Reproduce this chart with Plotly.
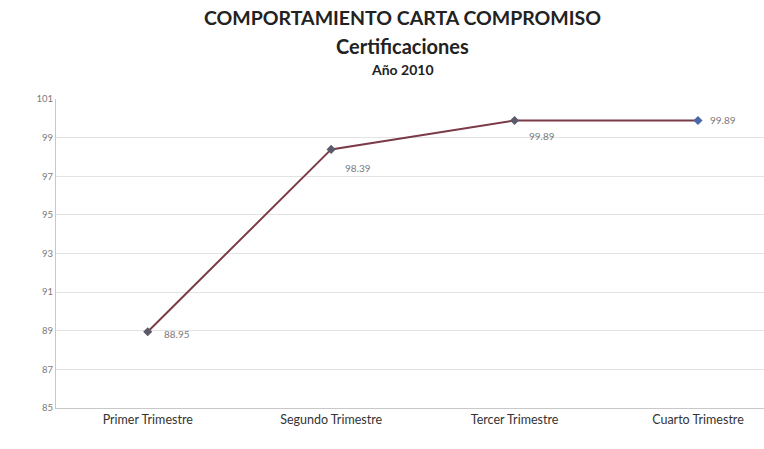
import plotly.graph_objects as go

trimestres = ["Primer Trimestre", "Segundo Trimestre", "Tercer Trimestre", "Cuarto Trimestre"]
valores = [88.95, 98.39, 99.89, 99.89]
ticks_y = [85, 87, 89, 91, 93, 95, 97, 99, 101]

# Pixel offsets of each value label from its point
label_dx = [14, 12, 12, 10]
label_dy = [-2, -19, -16, 0]

W, H = 764, 449
ML, MR, MT, MB = 56, 0, 99, 41

fig = go.Figure()
fig.add_trace(go.Scatter(
    x=trimestres,
    y=valores,
    mode="lines+markers",
    line=dict(color="#7a3b47", width=2),
    marker=dict(symbol="diamond", size=7, color=["#5a5a6a", "#5a5a6a", "#5a5a6a", "#4a68a8"]),
    cliponaxis=False,
    showlegend=False,
))

annotations = []
for cat, v, dx, dy in zip(trimestres, valores, label_dx, label_dy):
    annotations.append(dict(
        x=cat, y=v, xref="x", yref="y", text=f"{v:.2f}", showarrow=False,
        xanchor="left", yanchor="middle", xshift=dx, yshift=dy,
        font=dict(size=10, color="#7a7a7a"),
    ))


def paper_xy(px, py):
    return (px - ML) / (W - ML - MR), (H - py - MB) / (H - MT - MB)


for text, py, size in [
    ("<b>COMPORTAMIENTO CARTA COMPROMISO</b>", 18, 19.5),
    ("<b>Certificaciones</b>", 46, 20),
    ("<b>Año 2010</b>", 70, 14),
]:
    x, y = paper_xy(402, py)
    annotations.append(dict(text=text, x=x, y=y, xref="paper", yref="paper",
                            xanchor="center", yanchor="middle",
                            showarrow=False, font=dict(size=size, color="#222222")))

fig.update_layout(
    width=W,
    height=H,
    paper_bgcolor="white",
    plot_bgcolor="white",
    margin=dict(l=ML, r=MR, t=MT, b=MB),
    font=dict(family="Lato, Arial, sans-serif"),
    xaxis=dict(
        type="category",
        range=[-0.5, 3.36],
        showgrid=False,
        showline=True,
        linecolor="#c8c8c8",
        linewidth=1,
        ticks="",
        tickfont=dict(size=12.5, color="#333333"),
    ),
    yaxis=dict(
        range=[85, 101],
        tickvals=ticks_y,
        showgrid=True,
        gridcolor="#e3e3e3",
        showline=True,
        linecolor="#c8c8c8",
        zeroline=False,
        ticks="",
        tickfont=dict(size=9.5, color="#7a7a7a"),
    ),
    annotations=annotations,
)

fig.write_html("out.html")
